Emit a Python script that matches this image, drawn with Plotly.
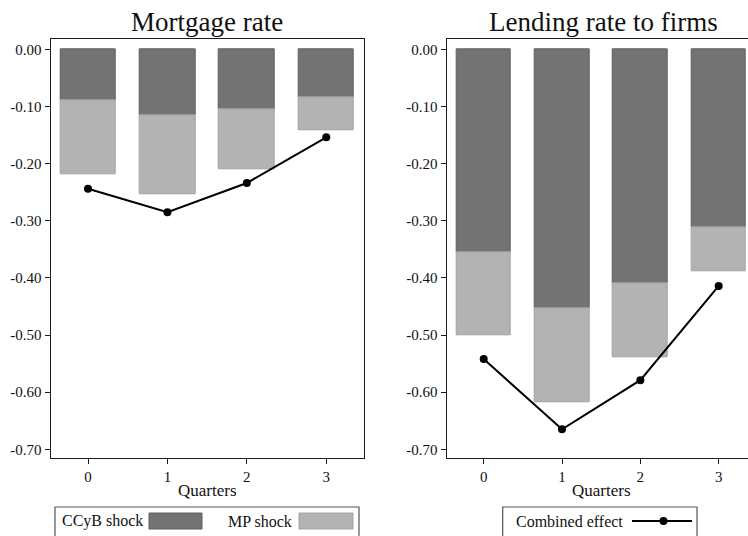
import plotly.graph_objects as go

# ---- data -------------------------------------------------------------
quarters = [0, 1, 2, 3]

mortgage_ccyb = [-0.090, -0.115, -0.105, -0.084]
mortgage_mp = [-0.128, -0.139, -0.105, -0.057]
mortgage_combined = [-0.244, -0.285, -0.234, -0.154]

firms_ccyb = [-0.355, -0.453, -0.410, -0.311]
firms_mp = [-0.146, -0.164, -0.129, -0.077]
firms_combined = [-0.542, -0.665, -0.579, -0.414]

y_tick_values = [0.0, -0.1, -0.2, -0.3, -0.4, -0.5, -0.6, -0.7]
y_tick_labels = ["0.00", "-0.10", "-0.20", "-0.30", "-0.40", "-0.50", "-0.60", "-0.70"]
x_tick_labels = ["0", "1", "2", "3"]

panel_titles = ["Mortgage rate", "Lending rate to firms"]
x_title = "Quarters"
legend_left = ["CCyB shock", "MP shock"]
legend_right = "Combined effect"

# ---- styling ----------------------------------------------------------
W, H = 748, 536
FONT = "Liberation Serif"
DARK = "#737373"
DARK_EDGE = "#5f5f5f"
LIGHT = "#b3b3b3"
LIGHT_EDGE = "#a3a3a3"
FRAME = "#1a1a1a"


def px_x(x):
    return x / W


def px_y(y):
    return 1 - y / H


y_dom = [px_y(458), px_y(39.3)]
left_dom = [px_x(50.7), px_x(364)]
right_dom = [px_x(446.7), 1.0]

fig = go.Figure()

panels = [
    ("x", "y", mortgage_ccyb, mortgage_mp, mortgage_combined),
    ("x2", "y2", firms_ccyb, firms_mp, firms_combined),
]
for xa, ya, ccyb, mp, comb in panels:
    fig.add_trace(go.Bar(
        x=quarters, y=ccyb, width=0.7, xaxis=xa, yaxis=ya,
        marker=dict(color=DARK, line=dict(color=DARK_EDGE, width=1)),
        name=legend_left[0], showlegend=False, hoverinfo="x+y",
    ))
    fig.add_trace(go.Bar(
        x=quarters, y=mp, width=0.7, xaxis=xa, yaxis=ya,
        marker=dict(color=LIGHT, line=dict(color=LIGHT_EDGE, width=1)),
        name=legend_left[1], showlegend=False, hoverinfo="x+y",
    ))
    fig.add_trace(go.Scatter(
        x=quarters, y=comb, xaxis=xa, yaxis=ya, mode="lines+markers",
        line=dict(color="black", width=2),
        marker=dict(color="black", size=8),
        name=legend_right, showlegend=False,
    ))

y_common = dict(
    range=[-0.7152, 0.0175], domain=y_dom,
    tickvals=y_tick_values, ticktext=y_tick_labels,
    ticks="outside", ticklen=5, tickwidth=1, tickcolor=FRAME,
    showline=True, linecolor=FRAME, linewidth=1.3,
    showgrid=False, zeroline=False,
    tickfont=dict(family=FONT, size=15, color="#111"),
)
x_common = dict(
    tickvals=quarters, ticktext=x_tick_labels,
    ticks="outside", ticklen=5, tickwidth=1, tickcolor=FRAME,
    showline=True, linecolor=FRAME, linewidth=1.3, mirror=True,
    showgrid=False, zeroline=False,
    tickfont=dict(family=FONT, size=15, color="#111"),
)

fig.update_layout(
    width=W, height=H,
    margin=dict(l=0, r=0, t=0, b=0),
    paper_bgcolor="white", plot_bgcolor="white",
    barmode="relative", bargap=0,
    showlegend=False,
    font=dict(family=FONT, color="#111"),
    xaxis=dict(x_common, domain=left_dom, range=[-0.47, 3.475], anchor="y"),
    yaxis=dict(y_common, anchor="x", mirror=True),
    xaxis2=dict(x_common, domain=right_dom, range=[-0.472, 3.374], anchor="y2"),
    yaxis2=dict(y_common, anchor="x2", mirror=False),
)

annotations = [
    dict(text=panel_titles[0], x=px_x(207.3), y=px_y(22), font=dict(size=27)),
    dict(text=panel_titles[1], x=px_x(603.4), y=px_y(22), font=dict(size=27)),
    dict(text=x_title, x=px_x(207.3), y=px_y(490), font=dict(size=17)),
    dict(text=x_title, x=px_x(601), y=px_y(490), font=dict(size=17)),
    dict(text=legend_left[0], x=px_x(60), y=px_y(521), xanchor="left", font=dict(size=16)),
    dict(text=legend_left[1], x=px_x(226), y=px_y(521), xanchor="left", font=dict(size=16)),
    dict(text=legend_right, x=px_x(514), y=px_y(521), xanchor="left", font=dict(size=16)),
]
for a in annotations:
    a.setdefault("xanchor", "center")
    fig.add_annotation(xref="paper", yref="paper", yanchor="middle",
                       showarrow=False, **a)

# legend frames and keys
shapes = [
    dict(type="rect", x0=px_x(55), x1=px_x(359), y0=px_y(545), y1=px_y(507),
         line=dict(color="#555", width=1.2), fillcolor="rgba(0,0,0,0)"),
    dict(type="rect", x0=px_x(149), x1=px_x(202), y0=px_y(529), y1=px_y(513),
         line=dict(color=DARK_EDGE, width=1), fillcolor=DARK),
    dict(type="rect", x0=px_x(299), x1=px_x(353), y0=px_y(529), y1=px_y(513),
         line=dict(color=LIGHT_EDGE, width=1), fillcolor=LIGHT),
    dict(type="rect", x0=px_x(502.7), x1=px_x(697), y0=px_y(545), y1=px_y(507),
         line=dict(color="#555", width=1.2), fillcolor="rgba(0,0,0,0)"),
    dict(type="line", x0=px_x(632), x1=px_x(692), y0=px_y(521), y1=px_y(521),
         line=dict(color="black", width=2)),
    dict(type="circle", x0=px_x(659.5), x1=px_x(667.5), y0=px_y(525), y1=px_y(517),
         line=dict(color="black", width=0), fillcolor="black"),
]
for s in shapes:
    fig.add_shape(xref="paper", yref="paper", **s)

fig.write_html("out.html")
